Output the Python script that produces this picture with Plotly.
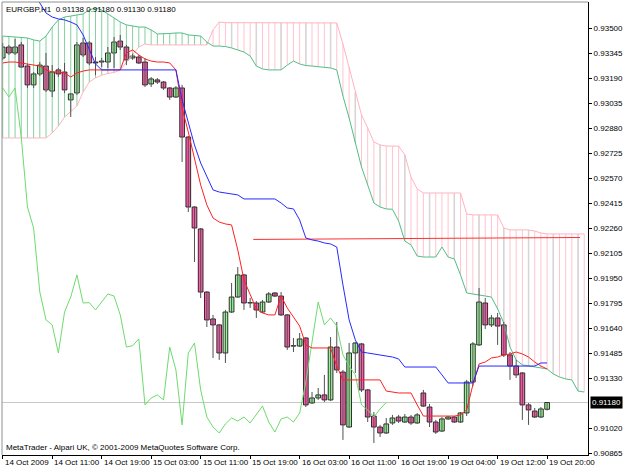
import plotly.graph_objects as go

# ---------------- data (EURGBP H1) ----------------
opens = [0.93316, 0.93384, 0.93347, 0.93397, 0.93266, 0.93149, 0.93217, 0.93266, 0.93111, 0.93242,
         0.93229, 0.93056, 0.93099, 0.93409, 0.93409, 0.93291, 0.93291, 0.93291, 0.93347, 0.93421,
         0.93384, 0.93316, 0.93322, 0.93291, 0.93155, 0.93180, 0.93167, 0.93130, 0.93074, 0.93130,
         0.92826, 0.92392, 0.92256, 0.91865, 0.91698, 0.91661, 0.91487, 0.91741, 0.91834, 0.91971,
         0.91797, 0.91797, 0.91741, 0.91803, 0.91859, 0.91840, 0.91723, 0.91530, 0.91530, 0.91580,
         0.91177, 0.91208, 0.91227, 0.91196, 0.91524, 0.91369, 0.91028, 0.91487, 0.91543, 0.91258,
         0.91096, 0.91028, 0.90991, 0.91053, 0.91090, 0.91059, 0.91090, 0.91053, 0.91239, 0.91152,
         0.91059, 0.91003, 0.91078, 0.91090, 0.91059, 0.91115, 0.91307, 0.91537, 0.91797, 0.91661,
         0.91704, 0.91661, 0.91475, 0.91406, 0.91363, 0.91165, 0.91127, 0.91090, 0.91138]
highs = [0.93409, 0.93397, 0.93434, 0.93415, 0.93279, 0.93229, 0.93291, 0.93347, 0.93272, 0.93254,
         0.93285, 0.93099, 0.93415, 0.93440, 0.93421, 0.93322, 0.93316, 0.93384, 0.93446, 0.93459,
         0.93397, 0.93341, 0.93335, 0.93316, 0.93198, 0.93192, 0.93173, 0.93136, 0.93142, 0.93149,
         0.92832, 0.92398, 0.92262, 0.91871, 0.91723, 0.91667, 0.91754, 0.91921, 0.92020, 0.91977,
         0.91828, 0.91809, 0.91816, 0.91865, 0.91865, 0.91865, 0.91729, 0.91580, 0.91611, 0.91586,
         0.91245, 0.91270, 0.91351, 0.91586, 0.91679, 0.91382, 0.91549, 0.91555, 0.91549, 0.91264,
         0.91121, 0.91041, 0.91084, 0.91103, 0.91103, 0.91109, 0.91103, 0.91115, 0.91258, 0.91171,
         0.91072, 0.91090, 0.91096, 0.91096, 0.91121, 0.91320, 0.91555, 0.91890, 0.91828, 0.91723,
         0.91735, 0.91679, 0.91493, 0.91444, 0.91369, 0.91177, 0.91146, 0.91152, 0.91180]
lows = [0.93304, 0.93335, 0.93335, 0.93254, 0.93130, 0.93130, 0.93204, 0.93105, 0.93074, 0.93198,
        0.93099, 0.92950, 0.93087, 0.93322, 0.93272, 0.93210, 0.93260, 0.93254, 0.93254, 0.93366,
        0.93272, 0.93304, 0.93279, 0.93136, 0.93136, 0.93155, 0.93118, 0.93056, 0.93068, 0.92671,
        0.92361, 0.92051, 0.91828, 0.91648, 0.91456, 0.91444, 0.91425, 0.91735, 0.91828, 0.91754,
        0.91766, 0.91704, 0.91735, 0.91797, 0.91834, 0.91716, 0.91506, 0.91493, 0.91524, 0.91152,
        0.91171, 0.91196, 0.91183, 0.91189, 0.91363, 0.90948, 0.91022, 0.91363, 0.91245, 0.91059,
        0.90929, 0.90966, 0.90985, 0.91041, 0.91053, 0.91053, 0.91041, 0.91047, 0.91152, 0.91028,
        0.90985, 0.90997, 0.91072, 0.91053, 0.91053, 0.91096, 0.91282, 0.91530, 0.91636, 0.91648,
        0.91537, 0.91462, 0.91320, 0.91332, 0.91072, 0.91041, 0.91084, 0.91084, 0.91130]
closes = [0.93384, 0.93347, 0.93384, 0.93260, 0.93149, 0.93217, 0.93272, 0.93118, 0.93229, 0.93217,
          0.93118, 0.93093, 0.93397, 0.93335, 0.93285, 0.93285, 0.93297, 0.93347, 0.93415, 0.93384,
          0.93304, 0.93328, 0.93285, 0.93149, 0.93186, 0.93167, 0.93130, 0.93074, 0.93130, 0.92826,
          0.92392, 0.92262, 0.91865, 0.91692, 0.91661, 0.91487, 0.91741, 0.91834, 0.91971, 0.91797,
          0.91799, 0.91754, 0.91803, 0.91853, 0.91840, 0.91723, 0.91524, 0.91532, 0.91574, 0.91165,
          0.91208, 0.91227, 0.91196, 0.91524, 0.91382, 0.91041, 0.91487, 0.91549, 0.91258, 0.91090,
          0.91028, 0.90991, 0.91047, 0.91084, 0.91065, 0.91090, 0.91053, 0.91103, 0.91158, 0.91059,
          0.90997, 0.91078, 0.91090, 0.91059, 0.91115, 0.91307, 0.91543, 0.91803, 0.91661, 0.91704,
          0.91654, 0.91475, 0.91406, 0.91351, 0.91165, 0.91134, 0.91090, 0.91140, 0.91180]

tenkan = [0.93285, 0.93291, 0.93291, 0.93285, 0.93279, 0.93272, 0.93266, 0.93242, 0.93229, 0.93229,
          0.93223, 0.93198, 0.93223, 0.93235, 0.93242, 0.93242, 0.93242, 0.93242, 0.93242, 0.93242,
          0.93347, 0.93366, 0.93335, 0.93310, 0.93297, 0.93291, 0.93291, 0.93285, 0.93242, 0.93006,
          0.92857, 0.92684, 0.92529, 0.92405, 0.92324, 0.92299, 0.92287, 0.92281, 0.92126, 0.91940,
          0.91853, 0.91760, 0.91735, 0.91723, 0.91723, 0.91840, 0.91766, 0.91710, 0.91654, 0.91537,
          0.91518, 0.91518, 0.91518, 0.91518, 0.91406, 0.91320, 0.91320, 0.91320, 0.91320, 0.91320,
          0.91320, 0.91320, 0.91251, 0.91245, 0.91239, 0.91239, 0.91239, 0.91165, 0.91096, 0.91096,
          0.91096, 0.91096, 0.91096, 0.91096, 0.91103, 0.91134, 0.91289, 0.91419, 0.91431, 0.91456,
          0.91462, 0.91475, 0.91481, 0.91493, 0.91481, 0.91462, 0.91431, 0.91406, 0.91388]
kijun = [0.93725, 0.93725, 0.93725, 0.93725, 0.93725, 0.93706, 0.93657, 0.93595, 0.93570, 0.93558,
         0.93552, 0.93539, 0.93521, 0.93459, 0.93366, 0.93279, 0.93242, 0.93242, 0.93242, 0.93242,
         0.93242, 0.93242, 0.93242, 0.93242, 0.93242, 0.93242, 0.93242, 0.93242, 0.93242, 0.93056,
         0.92919, 0.92777, 0.92665, 0.92578, 0.92498, 0.92485, 0.92479, 0.92473, 0.92467, 0.92442,
         0.92442, 0.92442, 0.92442, 0.92442, 0.92442, 0.92417, 0.92386, 0.92380, 0.92312, 0.92200,
         0.92188, 0.92181, 0.92169, 0.92163, 0.92144, 0.91909, 0.91692, 0.91568, 0.91493, 0.91487,
         0.91481, 0.91475, 0.91468, 0.91462, 0.91450, 0.91400, 0.91400, 0.91400, 0.91400, 0.91400,
         0.91400, 0.91351, 0.91301, 0.91301, 0.91301, 0.91301, 0.91301, 0.91406, 0.91406, 0.91406,
         0.91406, 0.91406, 0.91406, 0.91406, 0.91406, 0.91406, 0.91406, 0.91425, 0.91425]
senkou_a = [0.93452, 0.93449, 0.93446, 0.93446, 0.93440, 0.93428, 0.93421, 0.93452, 0.93508, 0.93552,
            0.93570, 0.93576, 0.93583, 0.93589, 0.93614, 0.93626, 0.93614, 0.93589, 0.93564, 0.93539,
            0.93521, 0.93514, 0.93508, 0.93508, 0.93490, 0.93465, 0.93465, 0.93468, 0.93471, 0.93471,
            0.93459, 0.93455, 0.93452, 0.93415, 0.93390, 0.93390, 0.93387, 0.93378, 0.93366, 0.93353,
            0.93328, 0.93266, 0.93248, 0.93242, 0.93242, 0.93242, 0.93272, 0.93297, 0.93279, 0.93269,
            0.93266, 0.93263, 0.93260, 0.93254, 0.93242, 0.93080, 0.92944, 0.92789, 0.92640, 0.92529,
            0.92417, 0.92392, 0.92380, 0.92378, 0.92305, 0.92181, 0.92157, 0.92088, 0.92082, 0.92082,
            0.92082, 0.92144, 0.92082, 0.92070, 0.91971, 0.91859, 0.91853, 0.91847, 0.91840, 0.91834,
            0.91760, 0.91673, 0.91524, 0.91444, 0.91413, 0.91406, 0.91400, 0.91394, 0.91388, 0.91357,
            0.91338, 0.91326, 0.91320, 0.91251, 0.91245]
senkou_b = [0.92820, 0.92820, 0.92820, 0.92820, 0.92820, 0.92820, 0.92820, 0.92820, 0.92851, 0.92894,
            0.92950, 0.92987, 0.93018, 0.93105, 0.93167, 0.93192, 0.93210, 0.93220, 0.93226, 0.93242,
            0.93291, 0.93335, 0.93384, 0.93403, 0.93397, 0.93397, 0.93397, 0.93397, 0.93397, 0.93397,
            0.93397, 0.93397, 0.93397, 0.93397, 0.93490, 0.93539, 0.93535, 0.93535, 0.93535, 0.93535,
            0.93535, 0.93535, 0.93535, 0.93535, 0.93535, 0.93535, 0.93535, 0.93535, 0.93535, 0.93535,
            0.93535, 0.93535, 0.93535, 0.93535, 0.93533, 0.93403, 0.93260, 0.93105, 0.92963, 0.92882,
            0.92795, 0.92777, 0.92770, 0.92770, 0.92770, 0.92715, 0.92578, 0.92504, 0.92479, 0.92479,
            0.92479, 0.92479, 0.92479, 0.92479, 0.92479, 0.92349, 0.92343, 0.92343, 0.92343, 0.92343,
            0.92343, 0.92262, 0.92250, 0.92250, 0.92250, 0.92250, 0.92243, 0.92231, 0.92225, 0.92225,
            0.92225, 0.92225, 0.92225, 0.92225, 0.92225]
chikou_shift = 26

trend_x = [40.5, 93.3]
trend_y = [0.92191, 0.92203]

last_price = 0.91180
title_text = "EURGBP,H1  0.91138 0.91180 0.91130 0.91180"
copyright_text = "MetaTrader - Alpari UK, \u00a9 2001-2009 MetaQuotes Software Corp."

xtick_pos = [0, 8, 16, 24, 32, 40, 48, 56, 64, 72, 80, 88]
xtick_labels = ["14 Oct 2009", "14 Oct 11:00", "14 Oct 19:00", "15 Oct 03:00", "15 Oct 11:00",
                "15 Oct 19:00", "16 Oct 03:00", "16 Oct 11:00", "16 Oct 19:00", "19 Oct 04:00",
                "19 Oct 12:00", "19 Oct 20:00"]
ytick_labels = ["0.93500", "0.93345", "0.93190", "0.93035", "0.92880", "0.92725", "0.92570",
                "0.92415", "0.92260", "0.92105", "0.91950", "0.91795", "0.91640", "0.91485",
                "0.91330", "0.91020", "0.90865"]

# ---------------- styles ----------------
FONT = "Liberation Sans"
UP_FILL = "#98F098"
DN_FILL = "#FF5AAA"
HATCH_UP = "#86D0A0"
HATCH_DN = "#FFC4CF"
HATCH_GRAY = "#D6D6D6"
SPAN_A = "#52BE84"
SPAN_B = "#FFB3C1"

n = len(closes)
idx = list(range(n))
fig = go.Figure()

# Kumo hatch
gx, gy, px, py, sx, sy = [], [], [], [], [], []
for i, (a, b) in enumerate(zip(senkou_a, senkou_b)):
    if a >= b:
        gx += [i, i, None]; gy += [a, b, None]
    else:
        px += [i, i, None]; py += [a, b, None]
        if i % 4 == 1:
            sx += [i, i, None]; sy += [a, b, None]
fig.add_trace(go.Scatter(x=gx, y=gy, mode="lines", line=dict(color=HATCH_UP, width=1), hoverinfo="skip"))
fig.add_trace(go.Scatter(x=px, y=py, mode="lines", line=dict(color=HATCH_DN, width=1), hoverinfo="skip"))
fig.add_trace(go.Scatter(x=sx, y=sy, mode="lines", line=dict(color=HATCH_GRAY, width=1.5), hoverinfo="skip"))
cidx = list(range(len(senkou_a)))
fig.add_trace(go.Scatter(x=cidx, y=senkou_b, mode="lines", line=dict(color=SPAN_B, width=1), hoverinfo="skip"))
fig.add_trace(go.Scatter(x=cidx, y=senkou_a, mode="lines", line=dict(color=SPAN_A, width=1), hoverinfo="skip"))

# candles: wicks then bodies
wx, wy = [], []
for i in idx:
    wx += [i, i, None]; wy += [highs[i], lows[i], None]
fig.add_trace(go.Scatter(x=wx, y=wy, mode="lines", line=dict(color="#505050", width=1), hoverinfo="skip"))
base = [min(o, c) for o, c in zip(opens, closes)]
height = [max(abs(c - o), 0.000015) for o, c in zip(opens, closes)]
colors = [UP_FILL if c > o else DN_FILL for o, c in zip(opens, closes)]
fig.add_trace(go.Bar(x=idx, y=height, base=base, width=0.76,
                     marker=dict(color=colors, line=dict(color="#1A1A1A", width=0.9)), hoverinfo="skip"))

# trend line, chikou, tenkan, kijun
fig.add_trace(go.Scatter(x=trend_x, y=trend_y, mode="lines", line=dict(color="#FF3030", width=1), hoverinfo="skip"))
chx = [i - chikou_shift for i in idx[chikou_shift:]]
chy = closes[chikou_shift:]
fig.add_trace(go.Scatter(x=chx, y=chy, mode="lines", line=dict(color="#6EDB6E", width=1), hoverinfo="skip"))
fig.add_trace(go.Scatter(x=idx, y=tenkan, mode="lines", line=dict(color="#FF2020", width=1), hoverinfo="skip"))
fig.add_trace(go.Scatter(x=idx, y=kijun, mode="lines", line=dict(color="#2828FF", width=1), hoverinfo="skip"))

# current price line
fig.add_shape(type="line", xref="paper", x0=0, x1=1, yref="y", y0=last_price, y1=last_price,
              line=dict(color="#C8C8C8", width=1), layer="below")
# left / top frame
fig.add_shape(type="line", xref="paper", yref="paper", x0=0, x1=0, y0=0, y1=1, line=dict(color="#909090", width=1))
fig.add_shape(type="line", xref="paper", yref="paper", x0=0, x1=1, y0=1, y1=1, line=dict(color="#909090", width=1))

ann = []
ann.append(dict(text=title_text, x=0, y=1, xref="paper", yref="paper", xanchor="left", yanchor="top",
                xshift=2, yshift=-1, showarrow=False, font=dict(family=FONT, size=8, color="black")))
ann.append(dict(text=copyright_text, x=0, y=0, xref="paper", yref="paper", xanchor="left", yanchor="bottom",
                xshift=2, yshift=1, showarrow=False, font=dict(family=FONT, size=8, color="black")))
for p, t in zip(xtick_pos, xtick_labels):
    ann.append(dict(text=t, x=p, y=0, xref="x", yref="paper", xanchor="left", yanchor="top",
                    xshift=0, yshift=-1, showarrow=False, font=dict(family=FONT, size=8, color="black")))
ann.append(dict(text=f"{last_price:.5f}", x=1, y=last_price, xref="paper", yref="y", xanchor="left",
                yanchor="middle", xshift=2, showarrow=False, bgcolor="black", borderpad=1,
                font=dict(family=FONT, size=8, color="white")))

fig.update_layout(
    width=625, height=469, margin=dict(l=2, r=31, t=2, b=14),
    paper_bgcolor="white", plot_bgcolor="white", showlegend=False,
    barmode="overlay", annotations=ann, hovermode=False,
    xaxis=dict(range=[-0.112, 94.61], showgrid=False, zeroline=False, showline=True, linecolor="black",
               linewidth=1, ticks="outside", ticklen=3, tickcolor="black", tickvals=xtick_pos,
               showticklabels=False),
    yaxis=dict(range=[0.908545, 0.936631], side="right", showgrid=False, zeroline=False, showline=True,
               linecolor="black", linewidth=1, ticks="outside", ticklen=3, tickcolor="black",
               tickvals=[float(s) for s in ytick_labels], ticktext=ytick_labels,
               tickfont=dict(family=FONT, size=8, color="black")),
)
fig.write_html("out.html", config={"displayModeBar": False})
